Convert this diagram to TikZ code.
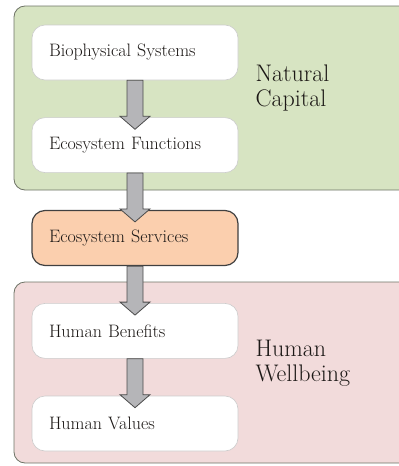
\documentclass[tikz,border=0pt]{standalone}
\usepackage{tikz}
\usetikzlibrary{positioning,calc}
\definecolor{capgreen}{HTML}{D7E4C2}
\definecolor{capline}{HTML}{6E7366}
\definecolor{wellpink}{HTML}{F2DBDB}
\definecolor{servorange}{HTML}{FBCFAE}
\definecolor{arrowgray}{HTML}{B5B5B8}
\definecolor{inkgray}{HTML}{1C1816}
\tikzset{
  region/.style = {draw=capline, line width=0.8pt, rounded corners=11pt},
  stage/.style = {rectangle, rounded corners=13pt, draw=black!20, fill=white,
    line width=0.6pt, minimum width=206pt, minimum height=55pt,
    text width=172pt, align=left, inner xsep=17pt, text=inkgray,
    font=\fontsize{18}{20}\selectfont},
  keystage/.style = {stage, fill=servorange, draw=black!75, line width=1.2pt},
  regionlabel/.style = {align=left, anchor=west, text=inkgray,
    font=\fontsize{24}{25}\selectfont},
  flowarrow/.style = {fill=arrowgray, draw=black!70, line width=0.8pt,
    line join=miter}}
\newcommand{\flowarrow}[2]{%
  \draw[flowarrow] let \p1=(#1.south), \p2=(#2.north) in
    (\x1-8pt,\y1) -- (\x1-8pt,\y2+1pt) -- (\x1-15pt,\y2+1pt) -- (\x1,\y2-12pt)
    -- (\x1+15pt,\y2+1pt) -- (\x1+8pt,\y2+1pt) -- (\x1+8pt,\y1) -- cycle;}

\begin{document}
\begin{tikzpicture}[x=1pt,y=-1pt,node distance=37pt]
\useasboundingbox (0,0) rectangle (399,466);

% the two regions
\draw[region, fill=capgreen] (14,6) rectangle (410,190);
\draw[region, fill=wellpink] (14,282) rectangle (410,463);
\node[regionlabel] (natcap) at (252,88) {Natural\\Capital};
\node[regionlabel] (human) at (252,363) {Human\\Wellbeing};

% the chain
\node[stage] (bio) at (135,52.5) {Biophysical Systems};
\node[stage, below=of bio] (func) {Ecosystem Functions};
\node[keystage, below=of func] (serv) {Ecosystem Services};
\node[stage, below=of serv] (ben) {Human Benefits};
\node[stage, below=of ben] (val) {Human Values};

\flowarrow{bio}{func}
\flowarrow{func}{serv}
\flowarrow{serv}{ben}
\flowarrow{ben}{val}
\end{tikzpicture}
\end{document}
